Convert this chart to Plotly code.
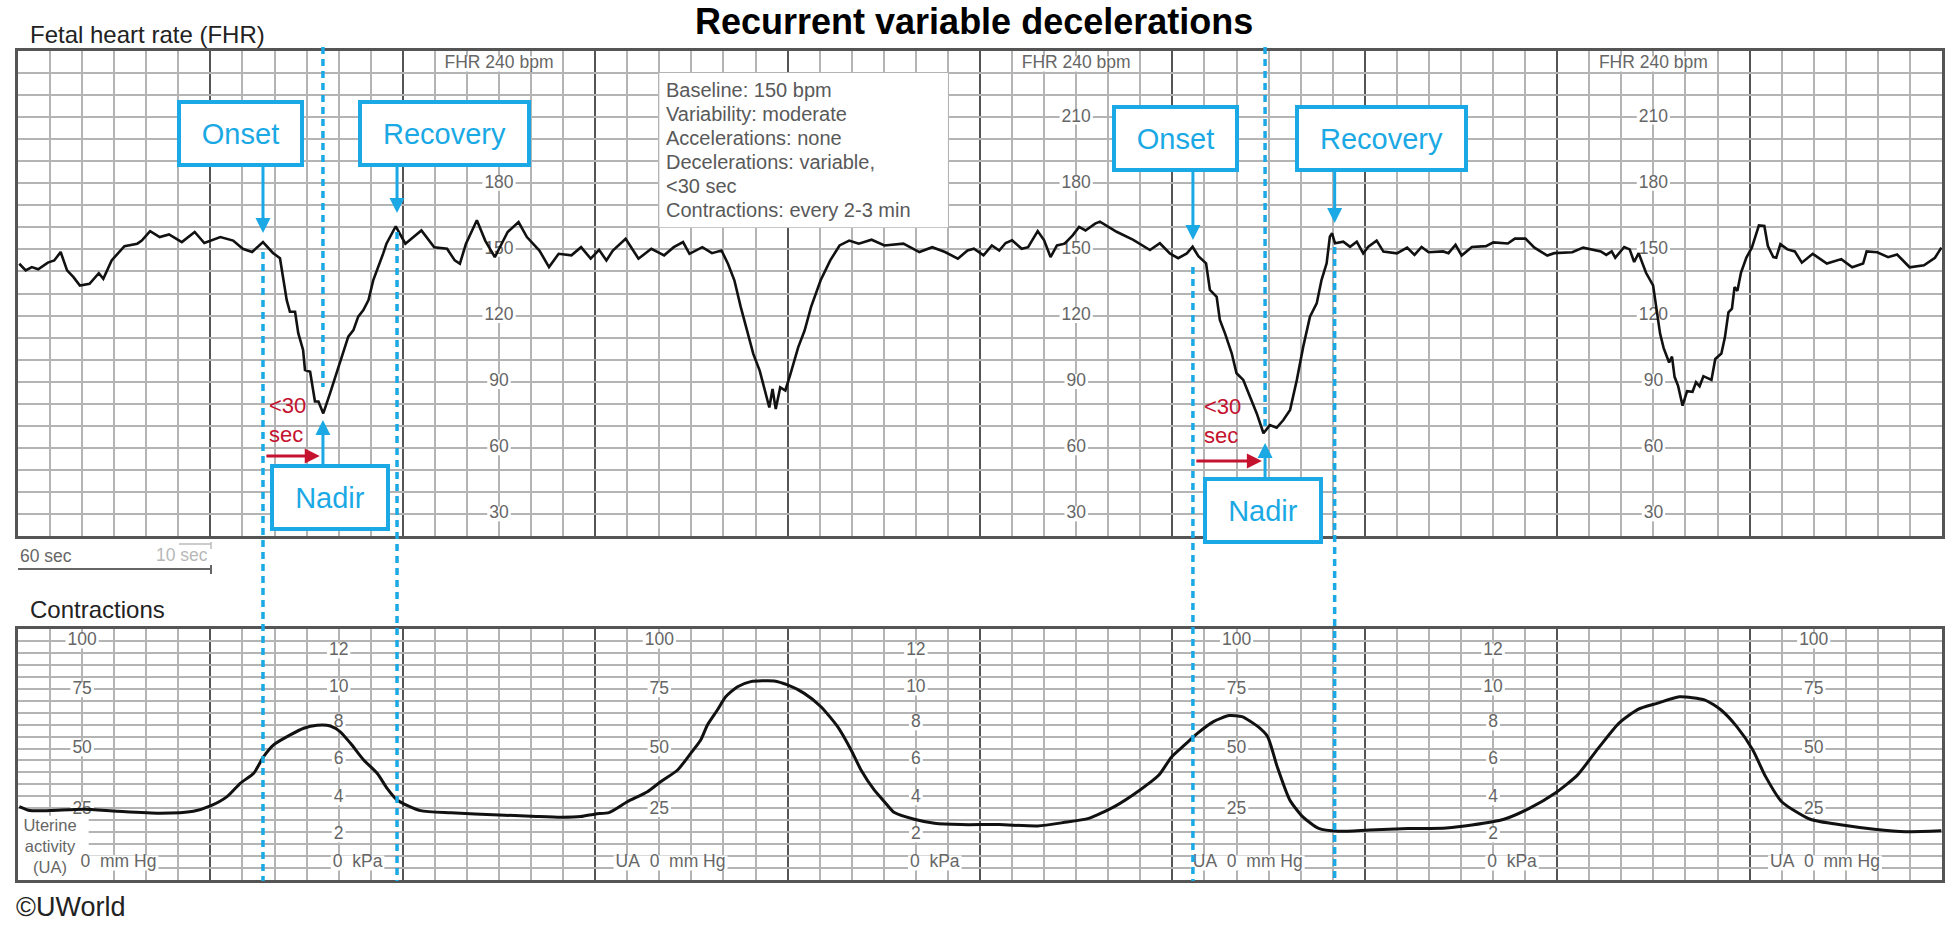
import plotly.graph_objects as go

W, H = 1960, 927
FONT = "Liberation Sans, Arial, sans-serif"
BLUE = "#1aa9e4"
RED = "#c4122f"
GRID_MINOR = "#b4b4b4"
GRID_MAJOR = "#555555"
LABEL_GREY = "#666666"

# ---------------- data ----------------
FHR_T = [0.4, 2.4, 4.3, 6.3, 9.3, 11.3, 13.3, 15.3, 17.3, 19.3, 22.3, 25.2, 26.6, 29.2,
         33.2, 37.2, 38.6, 41.2, 44.2, 47.1, 51.1, 55.1, 58.1, 63.1, 67.1, 70.1, 73.0, 76.4,
         79.5, 81.7, 83.8, 84.8, 86.4, 87.4, 88.9, 89.5, 91.1, 92.1, 92.6, 93.7, 95.2, 97.3,
         98.3, 99.9, 101.4, 103.0, 104.6, 106.1, 107.7, 109.3, 110.8, 112.9, 113.9,
         114.9, 117.8, 120.8, 125.8, 129.8, 133.8, 136.2, 137.8, 139.7, 143.1, 145.7, 148.7,
         152.7, 156.1, 158.7, 162.6, 165.6, 168.6, 172.6, 175.6, 178.6, 181.2, 183.5, 185.5,
         189.5, 193.5, 197.5, 201.5, 204.5, 207.4, 209.4, 213.4, 216.4, 219.4, 221.4, 223.4,
         225.4, 227.4, 229.3, 231.3, 233.3, 234.3, 235.3, 236.3, 237.7, 239.3, 240.9, 243.3,
         245.3, 247.3, 250.3, 253.3, 256.2, 259.2, 262.2, 266.2, 270.2, 276.1, 281.1, 285.1,
         289.1, 293.1,
         296.1, 298.1, 301.1, 303.7, 306.0, 308.0, 310.0, 313.0, 315.0, 318.0, 320.0, 322.0,
         324.0, 326.4, 328.9, 330.9, 332.9, 335.9,
         337.4, 342.6, 347.8, 353.0, 356.1, 359.2, 361.8, 364.5, 366.3, 368.1, 370.5, 371.7,
         373.8, 374.8, 376.4, 378.5, 380.0, 382.1, 384.2, 386.3, 388.4, 390.4, 392.5, 394.6,
         396.7, 398.8, 400.8, 402.9, 405.0, 406.5, 408.1, 409.1, 409.8, 410.7, 413.3, 415.4,
         417.5, 419.5, 421.1, 423.7, 425.8, 430.0,
         433.2, 435.5, 437.7, 439.9, 444.4, 446.1, 448.3, 450.2, 453.4, 457.8, 460.1, 464.6,
         466.8, 470.1, 472.9, 476.9, 479.1, 484.7, 488.1, 490.3, 493.6, 495.3, 497.0, 498.1,
         500.9, 502.6, 504.0, 505.4, 507.7, 509.9, 511.0, 512.1, 513.2, 514.9, 515.8, 516.6,
         517.7, 519.1, 520.5, 522.2, 523.3, 524.4, 525.6, 528.1, 529.3, 531.2, 532.3, 533.4,
         534.5, 535.3, 536.2, 537.3, 539.0, 540.7, 542.9, 544.6, 545.7, 547.4, 548.3, 549.6,
         551.8, 554.1, 556.3, 559.7, 564.1, 568.6, 572.0, 575.4, 576.5, 579.8, 583.2, 586.0,
         589.9, 594.4, 597.8, 599.8]
FHR_BPM = [143.5, 140.5, 142, 141, 144, 145, 148.8, 140.5, 137.4, 133.6, 134.4, 139.2, 136.7, 145,
           151.5, 152.6, 154, 158.3, 155.6, 156.8, 153.3, 157.9, 152.9, 155.6, 154, 150.3, 148.8, 153.3,
           148.4, 146, 127, 121.7, 121.7, 112, 104.4, 95.3, 94.5, 86.2, 81, 81, 75.6, 84.7,
           89.3, 96.8, 102.9, 110.4, 113.4, 119.5, 122.5, 127, 136.1, 143.7, 148.2,
           152.6, 160.5, 152.6, 158.6, 151, 150.3, 145, 143.5, 152.6, 163.2, 154, 146.5,
           157.9, 162.4, 155.6, 149.5, 142, 148, 147.3, 151, 145.8, 149.8, 145, 149.5,
           154.8, 145.8, 150.3, 147.3, 151, 153.3, 148, 151, 148.3, 149.5, 143.5, 136,
           123.8, 113.2, 102.6, 95, 84.4, 78.3, 86.7, 77.6, 87.4, 86, 93.5, 105.6,
           113.2, 123.8, 136, 145, 151.8, 154, 152.6, 154.4, 151.8, 152.6, 148.8, 151,
           148.8, 145.8,
           149.5, 150.3, 147.3, 151.8, 149.5, 152.9, 154.1, 150.3, 151, 158.3, 154.1, 146.5,
           151.8, 152.6, 156.4, 160.2, 158.6, 161.7,
           162.6, 158.0, 154.3, 149.7, 152.8, 148.2, 146.0, 148.2, 151.2, 146.9, 143.7, 131.6,
           128.5, 118.0, 111.9, 102.9, 93.8, 90.8, 83.2, 75.6, 66.6, 70.3, 69.1, 72.6,
           77.2, 90.8, 105.9, 119.5, 125.5, 136.1, 143.7, 155.8, 157.3, 152.8, 153.5, 151.2,
           153.5, 148.2, 151.2, 154.0, 149.0, 148.2,
           150.8, 147.5, 151.1, 148.7, 149.1, 148.3, 152.1, 147.2, 151.1, 151.5, 153.2, 152.7,
           154.9, 154.9, 150.8, 147.2, 148.3, 148.7, 150.8, 150, 149.1, 147.5, 149.1, 146.2,
           151.1, 150, 144.3, 148.3, 139.4, 133.7, 123.1, 111.7, 105.2, 98.7, 101.4, 92.2,
           88.1, 79.1, 85.7, 85.4, 89.7, 87.9, 92.5, 90.8, 100.3, 102.8, 110.1, 121.5,
           123.1, 132.9, 131.2, 139.4, 146.3, 150.8, 160.9, 160.6, 151.5, 146.5, 146.2, 152.4,
           150, 149.1, 144.0, 148, 143.6, 145.6, 141.9, 143.6, 149.1, 148.7, 146.5, 147.7,
           141.9, 142.8, 146.2, 150.8]

UA_T = [0.4, 3.7, 10, 20.4, 30.8, 44.3, 54.7, 60, 65.2, 69.3, 73.5, 76.6, 79.7, 84.9, 89.1,
        93.3, 97.4, 100.5, 103.7, 107.8, 112, 115.1, 118.2, 125.5, 135, 150, 160, 169.2,
        175.5, 180.1, 184.3, 190, 196.3, 200.4, 205.7, 209.8, 212.9, 215, 218.1, 220.7,
        224.4, 228.5, 235.8, 240, 245.2, 250.4, 255.6, 259.8, 262.9, 267, 270.2, 273.3,
        279.5, 285.8, 294.1, 306, 318, 326, 333.9, 341.9, 349.9, 355.8, 359.8, 363.8,
        367.8, 372.8, 377.7, 381.7, 386.7, 389.7, 392.7, 396.6, 400.6, 405.6, 411.6, 421.5,
        433.5, 445.4, 453.4, 463.4, 471.3, 479.3, 486.3, 493.2, 499.2, 505.2, 511.1, 518.1,
        526.1, 531.1, 536, 541, 545, 550, 558.9, 568.9, 578.9, 588.8, 599.8]
UA_MMHG = [25.4, 23.6, 23.6, 24.2, 23.3, 22.4, 23.3, 25.7, 29.9, 35.9, 40.4, 47.9, 53.2, 57.7, 60.7,
           62, 61.7, 59.1, 53.9, 46.4, 40.4, 33.6, 28.4, 23.6, 22.6, 21.6, 21.1, 20.6,
           20.9, 22.1, 22.7, 27.6, 32.1, 36.6, 41.9, 49.4, 55.4, 62.2, 68.9, 74.9,
           79.4, 81.7, 82, 80.2, 76.4, 70.4, 61.4, 50.9, 41.9, 32.9, 27.6, 22.7,
           19.7, 17.9, 17.3, 17.3, 16.7, 18.2, 20.1, 25.4, 32.9, 39.6, 47.9, 53.2,
           58.4, 63.7, 66.4, 65.9, 61.4, 56.9, 43.3, 28.4, 20.9, 15.6, 14.3, 14.9,
           15.5, 15.8, 17.1, 19.7, 24.6, 31.4, 39.6, 52.4, 62.9, 69.2, 71.9, 74.9,
           73.4, 68.9, 61.4, 50.9, 38.9, 27.6, 19.7, 17.1, 15.2, 14.1, 14.5]

FHR_TICKS = [210, 180, 150, 120, 90, 60, 30]
FHR_LABEL_COLS = [150, 330, 510]
UA_TICKS = [100, 75, 50, 25]
UA_TICK_POS = [100, 78, 51.4, 24]
UA_LABEL_COLS = [20, 200, 380, 560]
KPA_TICKS = [12, 10, 8, 6, 4, 2]
KPA_TICK_POS = [95.5, 78.8, 63.1, 46.4, 29.3, 12.6]
KPA_LABEL_COLS = [100, 280, 460]

ONSET_T = [76.4, 366.4]
NADIR_T = [95.1, 388.9]
RECOVERY_T = [118.2, 410.6]

INFO_LINES = ["Baseline: 150 bpm", "Variability: moderate", "Accelerations: none",
              "Decelerations: variable,", "&lt;30 sec", "Contractions: every 2-3 min"]

# ---------------- geometry ----------------
X0_PX, X1_PX = 18, 1942
FHR_TOP_PX, FHR_BOT_PX = 51, 536
UA_TOP_PX, UA_BOT_PX = 629, 880
T_RANGE = [0, 600]
FHR_RANGE = [20, 240]
UA_RANGE = [-7.66, 105.4]

S_PX = (X1_PX - X0_PX) / (T_RANGE[1] - T_RANGE[0])
BPM_PX = (FHR_BOT_PX - FHR_TOP_PX) / (FHR_RANGE[1] - FHR_RANGE[0])
MM_PX = (UA_BOT_PX - UA_TOP_PX) / (UA_RANGE[1] - UA_RANGE[0])


def py(px):
    return 1 - px / H


def t_at(px):
    return (px - X0_PX) / S_PX


def bpm_at(px):
    return FHR_RANGE[1] - (px - FHR_TOP_PX) / BPM_PX


CW = {" ": 0.278, "\u00a0": 0.278, "m": 0.833, "H": 0.722, "U": 0.722, "A": 0.667,
      "k": 0.5, "P": 0.667, "F": 0.611, "R": 0.722}


def text_w(s, size):
    return sum(CW.get(c, 0.556) for c in s) * size


shapes = []
label_traces = []


def put_label(where, xc, yc, text, size=17, lines=1, wtext=None):
    w = text_w(wtext or text, size) + 4
    h = size * 0.85 if lines == 1 else size * 1.3 * lines
    ypx = BPM_PX if where == "top" else MM_PX
    xref, yref = ("x", "y") if where == "top" else ("x2", "y2")
    shapes.append(dict(type="rect", xref=xref, yref=yref, layer="between",
                       x0=xc - w / 2 / S_PX, x1=xc + w / 2 / S_PX,
                       y0=yc - h / 2 / ypx, y1=yc + h / 2 / ypx,
                       fillcolor="white", line=dict(width=0)))
    label_traces.append(go.Scatter(x=[xc], y=[yc], text=[text], mode="text",
                                   textposition="middle center", hoverinfo="skip",
                                   textfont=dict(family=FONT, size=size, color=LABEL_GREY),
                                   xaxis=xref, yaxis=yref))


for col in FHR_LABEL_COLS:
    put_label("top", col, bpm_at(64), "FHR 240 bpm", size=17.5)
    for v in FHR_TICKS:
        put_label("top", col, v, str(v), size=17.5)

for col in UA_LABEL_COLS:
    for v, pos in zip(UA_TICKS, UA_TICK_POS):
        put_label("bot", col, pos, str(v), size=17.5)
for col in KPA_LABEL_COLS:
    for v, pos in zip(KPA_TICKS, KPA_TICK_POS):
        put_label("bot", col, pos, str(v), size=17.5)
    put_label("bot", col + 5.9, 0, "0\u00a0 kPa", size=17.5)

put_label("bot", t_at(50), 6.8, "Uterine<br>activity<br>(UA)", size=16.5, lines=3, wtext="activity")
put_label("bot", t_at(118.5), 0, "0\u00a0 mm Hg", size=17.5)
for col in UA_LABEL_COLS[1:]:
    put_label("bot", col + 3.5, 0, "UA\u00a0 0\u00a0 mm Hg", size=17.5)

fig = go.Figure()
for tr in label_traces:
    fig.add_trace(tr)

fig.add_trace(go.Scatter(x=FHR_T, y=FHR_BPM, mode="lines", hoverinfo="skip",
                         line=dict(color="#111111", width=2.6), xaxis="x", yaxis="y"))
fig.add_trace(go.Scatter(x=UA_T, y=UA_MMHG, mode="lines", hoverinfo="skip",
                         line=dict(color="#111111", width=3, shape="spline", smoothing=0.6),
                         xaxis="x2", yaxis="y2"))

# info box background
shapes.append(dict(type="rect", xref="x", yref="y", layer="between", x0=200, x1=290,
                   y0=160, y1=230, fillcolor="white", line=dict(width=0)))

# dotted event lines
ONSET_LINE_TOP = [252, 267]
RECOVERY_LINE_TOP = [232, 247]
NADIR_LINE_BOT = [387, 427]
dot = dict(color=BLUE, width=3.5, dash="7px,5px")
for i in range(2):
    shapes.append(dict(type="line", xref="x", yref="paper", x0=ONSET_T[i], x1=ONSET_T[i],
                       y0=py(ONSET_LINE_TOP[i]), y1=py(881), line=dot))
    shapes.append(dict(type="line", xref="x", yref="paper", x0=RECOVERY_T[i], x1=RECOVERY_T[i],
                       y0=py(RECOVERY_LINE_TOP[i]), y1=py(881), line=dot))
    shapes.append(dict(type="line", xref="x", yref="paper", x0=NADIR_T[i], x1=NADIR_T[i],
                       y0=py(47), y1=py(NADIR_LINE_BOT[i]), line=dot))

# time scale bar
shapes += [
    dict(type="line", xref="paper", yref="paper", x0=18 / W, x1=211 / W, y0=py(569), y1=py(569),
         line=dict(color="#666666", width=2)),
    dict(type="line", xref="paper", yref="paper", x0=211 / W, x1=211 / W, y0=py(565), y1=py(574),
         line=dict(color="#666666", width=2)),
    dict(type="line", xref="paper", yref="paper", x0=179 / W, x1=211 / W, y0=py(544), y1=py(544),
         line=dict(color="#bbbbbb", width=1.5)),
    dict(type="line", xref="paper", yref="paper", x0=211 / W, x1=211 / W, y0=py(542), y1=py(549),
         line=dict(color="#bbbbbb", width=1.5)),
]

ann = []


def paper_text(xpx, ypx, text, size, color="#222222", xanchor="left"):
    ann.append(dict(xref="paper", yref="paper", x=xpx / W, y=py(ypx), text=text, showarrow=False,
                    xanchor=xanchor, yanchor="middle", font=dict(family=FONT, size=size, color=color)))


paper_text(974, 22, "<b>Recurrent variable decelerations</b>", 36, "#000000", "center")
paper_text(28, 34, "Fetal heart rate (FHR)", 24)
paper_text(28, 609, "Contractions", 24)
paper_text(14, 907, "©UWorld", 27)
paper_text(46, 556, "60 sec", 17.5, "#666666", "center")
paper_text(182, 555, "10 sec", 17.5, "#b8b8b8", "center")

for k, line in enumerate(INFO_LINES):
    ann.append(dict(xref="x", yref="paper", x=t_at(664), y=py(90 + 24 * k), text=line,
                    showarrow=False, xanchor="left", yanchor="middle",
                    font=dict(family=FONT, size=20, color="#595959")))


def blue_box(xpx, ypx, text, width):
    ann.append(dict(xref="x", yref="y", x=t_at(xpx), y=bpm_at(ypx), text=text, showarrow=False,
                    xanchor="center", yanchor="middle", width=width, height=59,
                    bgcolor="white", bordercolor=BLUE, borderwidth=4, borderpad=0,
                    font=dict(family=FONT, size=29, color=BLUE)))


def arrow(t_tip, y_tip, t_tail, y_tail, color):
    ann.append(dict(xref="x", yref="y", axref="x", ayref="y", x=t_tip, y=y_tip, ax=t_tail,
                    ay=y_tail, text="", showarrow=True, arrowhead=2, arrowsize=1,
                    arrowwidth=3, arrowcolor=color, standoff=0, startstandoff=0))


ONSET_BOX = [(240.5, 133.5), (1175.5, 138.5)]
RECOVERY_BOX = [(444, 133.5), (1381, 138.5)]
NADIR_BOX = [(330, 497.5), (1263, 510)]
BOX_BOTTOM = [165, 170]
ONSET_TIP = [233, 240]
RECOVERY_TIP = [213, 223]
NADIR_TIP = [420, 443]
NADIR_BOX_TOP = [466, 479]
RED_Y = [456, 461]
RED_TEXT = [(267, 420), (1202, 421)]

for i in range(2):
    blue_box(*ONSET_BOX[i], "Onset", 119)
    blue_box(*RECOVERY_BOX[i], "Recovery", 165)
    blue_box(*NADIR_BOX[i], "Nadir", 112)
    arrow(ONSET_T[i], bpm_at(ONSET_TIP[i]), ONSET_T[i], bpm_at(BOX_BOTTOM[i]), BLUE)
    arrow(RECOVERY_T[i], bpm_at(RECOVERY_TIP[i]), RECOVERY_T[i], bpm_at(BOX_BOTTOM[i]), BLUE)
    arrow(NADIR_T[i], bpm_at(NADIR_TIP[i]), NADIR_T[i], bpm_at(NADIR_BOX_TOP[i]), BLUE)
    arrow(NADIR_T[i] - 1.0, bpm_at(RED_Y[i]), ONSET_T[i] + 0.6, bpm_at(RED_Y[i]), RED)
    ann.append(dict(xref="x", yref="y", x=t_at(RED_TEXT[i][0]), y=bpm_at(RED_TEXT[i][1]),
                    text="&lt;30<br>sec", showarrow=False, xanchor="left", yanchor="middle",
                    align="left", font=dict(family=FONT, size=22, color=RED)))

xaxis_style = dict(range=T_RANGE, domain=[X0_PX / W, X1_PX / W], tick0=0, dtick=60,
                   showgrid=True, gridcolor=GRID_MAJOR, gridwidth=1.6,
                   minor=dict(tick0=0, dtick=10, showgrid=True, gridcolor=GRID_MINOR, gridwidth=1.6),
                   showticklabels=False, ticks="", zeroline=False, showline=True, mirror=True,
                   linecolor=GRID_MAJOR, linewidth=2.5, fixedrange=True)
fig.update_layout(
    width=W, height=H, margin=dict(l=0, r=0, t=0, b=0),
    paper_bgcolor="white", plot_bgcolor="white", showlegend=False,
    xaxis=dict(anchor="y", **xaxis_style),
    xaxis2=dict(anchor="y2", matches="x", **xaxis_style),
    yaxis=dict(range=FHR_RANGE, domain=[py(FHR_BOT_PX), py(FHR_TOP_PX)], tick0=0, dtick=10,
               showgrid=True, gridcolor=GRID_MINOR, gridwidth=1.6, showticklabels=False,
               ticks="", zeroline=False, showline=True, mirror=True, linecolor=GRID_MAJOR,
               linewidth=2.5, fixedrange=True),
    yaxis2=dict(range=UA_RANGE, domain=[py(UA_BOT_PX), py(UA_TOP_PX)], tick0=UA_RANGE[0],
                dtick=(UA_RANGE[1] - UA_RANGE[0]) / 21, showgrid=True, gridcolor=GRID_MINOR,
                gridwidth=1.6, showticklabels=False, ticks="", zeroline=False, showline=True,
                mirror=True, linecolor=GRID_MAJOR, linewidth=2.5, fixedrange=True),
    shapes=shapes,
    annotations=ann,
)

fig.write_html("out.html", config={"displayModeBar": False},
               post_script="document.body.style.margin='0';")
